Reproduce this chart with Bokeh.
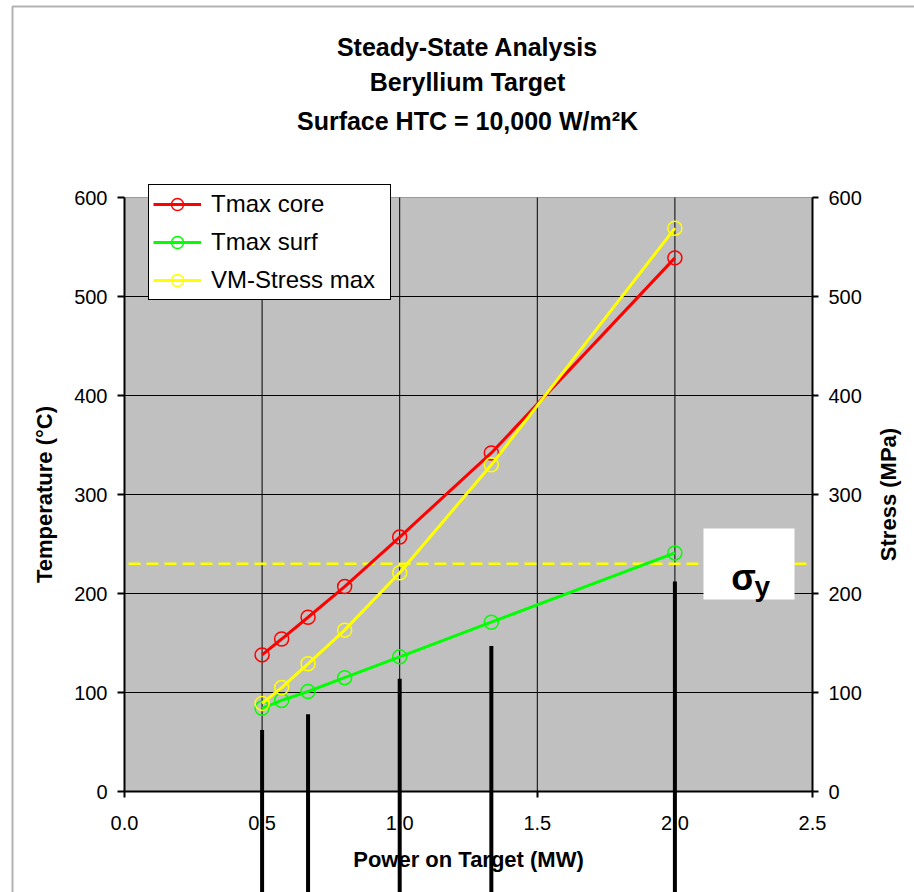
import math
from bokeh.plotting import figure
from bokeh.models import (ColumnDataSource, Range1d, LinearAxis, FixedTicker, PrintfTickFormatter,
                          Legend, LegendItem, BoxAnnotation, Label)
from bokeh.embed import file_html
from bokeh.resources import INLINE

# ---------------- data ----------------
power = [0.5, 0.571, 0.667, 0.8, 1.0, 1.333, 2.0]
tmax_core = [138, 154, 176, 207, 257, 342, 539]
tmax_surf = [84, 92, 101, 115, 136, 171, 241]
vm_stress = [89, 105, 129, 163, 221, 330, 569]
sigma_y = 230
bar_power = [0.5, 0.667, 1.0, 1.333, 2.0]
bar_top = [62, 78, 114, 147, 212]
x_ticks = [0.0, 0.5, 1.0, 1.5, 2.0, 2.5]
y_ticks = [0, 100, 200, 300, 400, 500, 600]
title_lines = ["Steady-State Analysis", "Beryllium Target", "Surface HTC = 10,000 W/m\u00b2K"]
series_names = ["Tmax core", "Tmax surf", "VM-Stress max"]

FONT = "Liberation Sans"
W, H = 914, 892
# plot area placement (pixels) — the frame covers the whole canvas
PX_L, PX_R, PY_T, PY_B = 124, 812, 197, 791
XMIN, XMAX = x_ticks[0], x_ticks[-1]
YMIN, YMAX = y_ticks[0], y_ticks[-1]
sx = (PX_R - PX_L) / (XMAX - XMIN)
sy = (PY_B - PY_T) / (YMAX - YMIN)


def dx(px):
    return XMIN + (px - PX_L) / sx


def dy(py):
    return YMIN + (PY_B - py) / sy


xr = Range1d(dx(0), dx(W))
yr = Range1d(dy(H), dy(0))

p = figure(width=W, height=H, output_backend="svg", toolbar_location=None,
           x_range=xr, y_range=yr,
           min_border_left=0, min_border_right=0, min_border_top=0, min_border_bottom=0)
p.background_fill_color = "white"
p.border_fill_color = "white"
p.outline_line_color = None
p.xgrid.visible = False
p.ygrid.visible = False

# plot area background
p.add_layout(BoxAnnotation(left=XMIN, right=XMAX, bottom=YMIN, top=YMAX,
                           fill_color="#C0C0C0", fill_alpha=1, line_color="black",
                           line_width=1, level="underlay"))

# grid lines at the tick positions
gx = x_ticks[1:-1]
p.segment(x0=gx, x1=gx, y0=[YMIN] * len(gx), y1=[YMAX] * len(gx), line_color="black", line_width=1)
gy = y_ticks[1:-1]
p.segment(x0=[XMIN] * len(gy), x1=[XMAX] * len(gy), y0=gy, y1=gy, line_color="black", line_width=1)

p.extra_y_ranges = {"stress": Range1d(dy(H), dy(0))}
raxis = LinearAxis(y_range_name="stress")
p.add_layout(raxis, "right")

for ax in [p.xaxis[0], p.yaxis[0], raxis]:
    ax.axis_line_color = "black"
    ax.axis_line_width = 2
    ax.major_tick_line_color = "black"
    ax.major_tick_line_width = 2
    ax.major_tick_in = 0
    ax.major_tick_out = 7
    ax.minor_tick_line_color = None
    ax.major_label_text_font = FONT
    ax.major_label_text_font_size = "20px"
    ax.major_label_text_color = "black"
    ax.axis_label_text_font = FONT
    ax.axis_label_text_font_size = "22px"
    ax.axis_label_text_font_style = "bold"
    ax.axis_label_text_color = "black"

p.xaxis[0].fixed_location = YMIN
p.xaxis[0].bounds = (XMIN, XMAX)
p.xaxis[0].ticker = FixedTicker(ticks=x_ticks)
p.xaxis[0].formatter = PrintfTickFormatter(format="%.1f")
p.xaxis[0].major_tick_out = 6
p.xaxis[0].major_label_standoff = 18
p.xaxis[0].axis_label = "Power on Target (MW)"
p.xaxis[0].axis_label_standoff = 14

p.yaxis[0].fixed_location = XMIN
p.yaxis[0].bounds = (YMIN, YMAX)
p.yaxis[0].ticker = FixedTicker(ticks=y_ticks)
p.yaxis[0].major_label_standoff = 10
p.yaxis[0].axis_label = "Temperature (\u00b0C)"
p.yaxis[0].axis_label_standoff = 14

raxis.fixed_location = XMAX
raxis.bounds = (YMIN, YMAX)
raxis.ticker = FixedTicker(ticks=y_ticks)
raxis.major_tick_out = 6
raxis.major_label_standoff = 10

# yield stress line
p.segment(x0=[dx(128)], x1=[XMAX], y0=[sigma_y], y1=[sigma_y], line_color="#FFFF00",
          line_width=2.5, line_dash="12 6")

src = ColumnDataSource(dict(x=power, core=tmax_core, surf=tmax_surf, vm=vm_stress))
colors = ["#FF0000", "#00FF00", "#FFFF00"]
items = []
for col, c, name in zip(["core", "surf", "vm"], colors, series_names):
    yrn = "stress" if col == "vm" else "default"
    ln = p.line("x", col, source=src, line_color=c, line_width=3, y_range_name=yrn)
    sc = p.scatter("x", col, source=src, marker="circle", size=14, fill_alpha=0,
                   line_color=c, line_width=1.5, y_range_name=yrn)
    items.append(LegendItem(label=name, renderers=[ln, sc]))

legend = Legend(items=items, location=(148, H - 300))
legend.label_text_font = FONT
legend.label_text_font_size = "24px"
legend.label_text_color = "black"
legend.label_height = 30
legend.label_width = 175
legend.glyph_height = 30
legend.glyph_width = 48
legend.label_standoff = 10
legend.spacing = 8
legend.padding = 4
legend.margin = 0
legend.border_line_color = "black"
legend.border_line_width = 1.5
legend.border_line_alpha = 1
legend.background_fill_color = "white"
legend.background_fill_alpha = 1
p.add_layout(legend, "center")

# sigma_y box
p.add_layout(BoxAnnotation(left=dx(703), right=dx(794), bottom=dy(599), top=dy(528),
                           fill_color="white", fill_alpha=1, line_color=None))
p.add_layout(Label(x=dx(743), y=dy(577), text="\u03c3", text_font=FONT,
                   text_font_size="36px", text_font_style="bold", text_align="center",
                   text_baseline="alphabetic", text_color="black"))
p.add_layout(Label(x=dx(754), y=dy(586), text="y", text_font=FONT,
                   text_font_size="28px", text_font_style="bold", text_align="left",
                   text_baseline="alphabetic", text_color="black"))

# right axis label (reads bottom to top)
p.add_layout(Label(x=dx(888), y=(YMIN + YMAX) / 2, text="Stress (MPa)", text_font=FONT,
                   text_font_size="22px", text_font_style="bold", text_align="center",
                   text_baseline="middle", angle=math.pi / 2, text_color="black"))

# titles
for txt, py in zip(title_lines, [46.7, 81.7, 120.7]):
    p.add_layout(Label(x=dx(467), y=dy(py), text=txt, text_font=FONT,
                       text_font_size="25px", text_font_style="bold", text_align="center",
                       text_baseline="middle", text_color="black"))

# black vertical bars overlapping the chart (drawn on top of everything)
p.segment(x0=bar_power, x1=bar_power, y0=bar_top, y1=[dy(H + 20)] * len(bar_power),
          line_color="black", line_width=4, level="overlay")

# outer border
p.add_layout(BoxAnnotation(left=dx(12), top=dy(6), right=dx(W + 20), bottom=dy(H + 20),
                           fill_alpha=0, line_color="black", line_width=2))

open("out.html", "w").write(file_html(p, INLINE))
